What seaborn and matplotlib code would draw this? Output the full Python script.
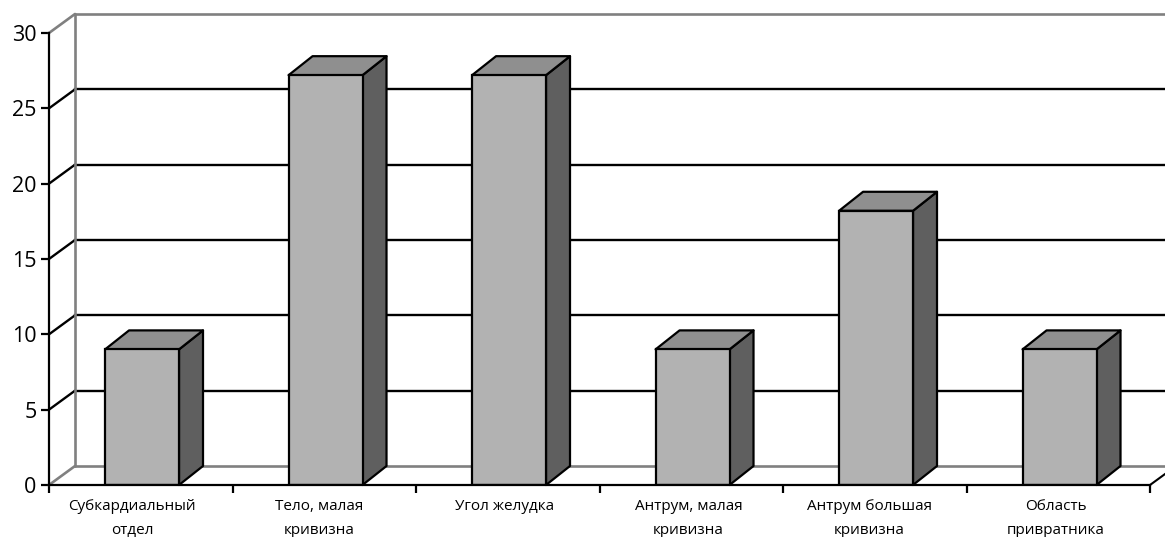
import matplotlib
matplotlib.use("Agg")
import matplotlib.pyplot as plt
from matplotlib.transforms import Affine2D, ScaledTranslation
import pandas as pd
import seaborn as sns

categories = ["Субкардиальный\nотдел", "Тело, малая\nкривизна", "Угол желудка",
              "Антрум, малая\nкривизна", "Антрум большая\nкривизна", "Область\nпривратника"]
values = [9.0, 27.2, 27.2, 9.0, 18.2, 9.0]
y_ticks = [0, 5, 10, 15, 20, 25, 30]
label_shift_px = [-10, -6, -4, -4, -7, -4]

W, H = 1165, 537
sns.set_theme(style="white")
plt.rcParams["font.family"] = ["Open Sans", "DejaVu Sans"]

fig = plt.figure(figsize=(W / 100, H / 100), dpi=100, facecolor="white")
L, R, T, B = 49, 1150, 33, 485
ax = fig.add_axes([L / W, 1 - B / H, (R - L) / W, (B - T) / H])

df = pd.DataFrame({"cat": categories, "val": values})
sns.barplot(data=df, x="cat", y="val", ax=ax, width=0.403, color="#b2b2b2", saturation=1,
            edgecolor="black", linewidth=1.6, zorder=5)
ax.set_xlim(-0.507, 5.493)
ax.set_ylim(0, 30)
ax.set_xlabel("")
ax.set_ylabel("")

BLACK_LW = 1.7
DX_WALL, DY_WALL = 26, 19
DX_BAR, DY_BAR = 24, 19
wall = ax.transData + Affine2D().translate(DX_WALL, DY_WALL)
x0, x1 = ax.get_xlim()

# back wall grid and connecting diagonals
for t in y_ticks:
    edge = t in (0, 30)
    col = "#808080" if edge else "black"
    lw = 1.9 if edge else BLACK_LW
    ax.plot([x0, x1], [t, t], transform=wall, color=col, lw=lw, clip_on=False, zorder=2,
            solid_capstyle="projecting")
    ax.plot([x0, x0 + DX_WALL * (x1 - x0) / (R - L)],
            [t, t + DY_WALL * 30 / (B - T)], color=col, lw=lw, clip_on=False, zorder=2)
ax.plot([x0, x0], [0, 30], transform=wall, color="#808080", lw=1.9, clip_on=False, zorder=2)
# right floor edge
ax.plot([x1, x1 + DX_WALL * (x1 - x0) / (R - L)], [0, DY_WALL * 30 / (B - T)],
        color="black", lw=1.5, clip_on=False, zorder=2)

# 3D sides of the bars
sx = DX_BAR * (x1 - x0) / (R - L)
sy = DY_BAR * 30 / (B - T)
for patch in ax.patches:
    a, b = patch.get_x(), patch.get_x() + patch.get_width()
    h = patch.get_height()
    ax.fill([b, b + sx, b + sx, b], [0, sy, h + sy, h], facecolor="#5f5f5f",
            edgecolor="black", lw=1.6, zorder=4, clip_on=False, joinstyle="round")
    ax.fill([a, a + sx, b + sx, b], [h, h + sy, h + sy, h], facecolor="#8f8f8f",
            edgecolor="black", lw=1.6, zorder=4, clip_on=False, joinstyle="round")

# axes
for s in ("top", "right"):
    ax.spines[s].set_visible(False)
for s in ("left", "bottom"):
    ax.spines[s].set_linewidth(1.6)
    ax.spines[s].set_color("black")
    ax.spines[s].set_zorder(6)
ax.set_yticks(y_ticks)
ax.tick_params(axis="y", length=6, width=1.6, color="black", labelsize=15.5, pad=3, left=True,
               labelcolor="black")
ax.set_xticks(range(len(categories)))
ax.set_xticklabels(categories)
ax.tick_params(axis="x", which="major", length=0, labelsize=11, pad=10, labelcolor="black")
ax.set_xticks([x0 + i for i in range(len(categories) + 1)], minor=True)
ax.tick_params(axis="x", which="minor", length=5.5, width=1.6, color="black", bottom=True)
for lab, shift in zip(ax.get_xticklabels(), label_shift_px):
    lab.set_linespacing(1.85)
    lab.set_verticalalignment("top")
    lab.set_transform(lab.get_transform() + ScaledTranslation(shift / 100, 0, fig.dpi_scale_trans))
ax.patch.set_alpha(0)

fig.savefig("out.png", dpi=100, facecolor="white")
